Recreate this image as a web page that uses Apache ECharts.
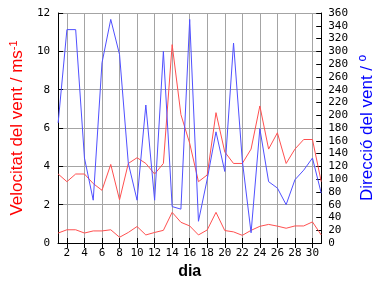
<!DOCTYPE html>
<html>
<head>
<meta charset="utf-8">
<script src="https://cdn.jsdelivr.net/npm/echarts@6/dist/echarts.min.js"></script>
<style>
html,body{margin:0;padding:0;background:#fff;}
#chart{width:384px;height:288px;}
</style>
</head>
<body>
<div id="chart"></div>
<script>
// Data
const days = [1,2,3,4,5,6,7,8,9,10,11,12,13,14,15,16,17,18,19,20,21,22,23,24,25,26,27,28,29,30,31];
const maxSpeed = [3.6,3.2,3.6,3.6,3.1,2.75,4.1,2.25,4.15,4.45,4.15,3.6,4.15,10.35,6.7,5.2,3.2,3.55,6.8,4.75,4.15,4.15,4.9,7.15,4.9,5.75,4.15,4.9,5.4,5.4,3.2];
const meanSpeed = [0.52,0.69,0.69,0.52,0.63,0.63,0.69,0.3,0.55,0.86,0.42,0.55,0.66,1.6,1.08,0.89,0.42,0.68,1.6,0.65,0.58,0.4,0.66,0.87,0.97,0.88,0.77,0.89,0.89,1.1,0.42];
const direction = [188,334,334,133,67,282,350,295,125,67,216,67,300,57,53,350,34,100,174,112,313,129,16,179,96,86,60,99,114,133,78];
const speedTicks = {min:0, max:12, step:2};
const dirTicks = {min:0, max:360, step:20};

const monoFont = 'DejaVu Sans Mono';
const evenDay = (i) => i % 2 === 1;
const gridColor = '#a4a4a4';

const chart = echarts.init(document.getElementById('chart'), null, {renderer:'canvas'});
chart.setOption({
  animation:false,
  backgroundColor:'#ffffff',
  grid:{left:49, right:49, top:13, bottom:45, containLabel:false},
  xAxis:[{
    type:'category', data:days, boundaryGap:false, position:'bottom',
    axisLine:{show:true, lineStyle:{color:'#000', width:1}},
    axisTick:{show:true, inside:true, length:5, interval:evenDay, lineStyle:{color:'#000'}},
    axisLabel:{show:true, interval:evenDay, margin:5, fontFamily:monoFont, fontSize:11, color:'#000'},
    splitLine:{show:true, interval:evenDay, lineStyle:{color:gridColor, width:1}},
    name:'dia', nameLocation:'middle', nameGap:21,
    nameTextStyle:{fontFamily:'Liberation Sans', fontSize:16, fontWeight:'bold', color:'#000'}
  },{
    type:'category', data:days, boundaryGap:false, position:'top',
    axisLine:{show:true, lineStyle:{color:'#000', width:1}},
    axisTick:{show:true, inside:true, length:5, interval:evenDay, lineStyle:{color:'#000'}},
    axisLabel:{show:false}, splitLine:{show:false}
  }],
  yAxis:[{
    type:'value', min:speedTicks.min, max:speedTicks.max, interval:speedTicks.step, position:'left',
    axisLine:{show:true, lineStyle:{color:'#000', width:1}},
    axisTick:{show:true, inside:true, length:5, lineStyle:{color:'#000'}},
    axisLabel:{margin:8, fontFamily:monoFont, fontSize:11, color:'#000'},
    splitLine:{show:true, lineStyle:{color:gridColor, width:1}},
    name:'Velocitat del vent / ms{sup|-1}', nameLocation:'middle', nameGap:20,
    nameTextStyle:{fontFamily:'Liberation Sans', fontSize:17, color:'#ff0000',
      rich:{sup:{fontFamily:'Liberation Sans', fontSize:11, color:'#ff0000', verticalAlign:'top', padding:[0,0,8,0]}}}
  },{
    type:'value', min:dirTicks.min, max:dirTicks.max, interval:dirTicks.step, position:'right',
    axisLine:{show:true, lineStyle:{color:'#000', width:1}},
    axisTick:{show:true, inside:true, length:5, lineStyle:{color:'#000'}},
    axisLabel:{margin:7, fontFamily:monoFont, fontSize:11, color:'#000'},
    splitLine:{show:false},
    name:'Direcció del vent / º', nameLocation:'middle', nameGap:30,
    nameTextStyle:{fontFamily:'Liberation Sans', fontSize:17, color:'#0000ff'}
  }],
  series:[
    {type:'line', name:'max', data:maxSpeed, xAxisIndex:0, yAxisIndex:0, showSymbol:false, lineStyle:{color:'#ff5050', width:1}, itemStyle:{color:'#ff5050'}},
    {type:'line', name:'mean', data:meanSpeed, xAxisIndex:0, yAxisIndex:0, showSymbol:false, lineStyle:{color:'#ff5050', width:1}, itemStyle:{color:'#ff5050'}},
    {type:'line', name:'dir', data:direction, xAxisIndex:0, yAxisIndex:1, showSymbol:false, lineStyle:{color:'#5050ff', width:1}, itemStyle:{color:'#5050ff'}}
  ]
});
</script>
</body>
</html>
